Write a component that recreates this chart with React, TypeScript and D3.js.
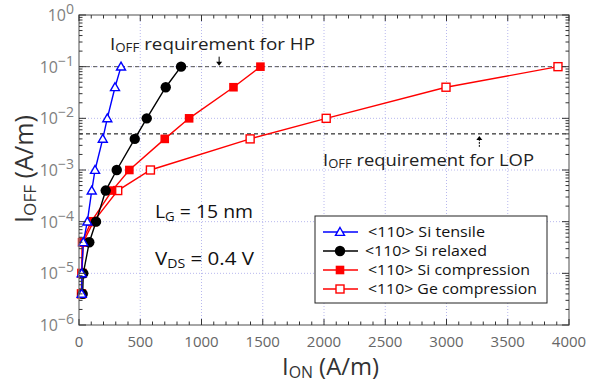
import React from "react";
import * as d3 from "d3";

const ionTensile = [22, 22, 35, 68, 104, 131, 194, 231, 294, 343];
const ioffTensile = [4e-6, 1e-5, 4e-5, 1e-4, 4e-4, 1e-3, 4e-3, 1e-2, 4e-2, 1e-1];
const ionRelaxed = [30, 35, 84, 139, 218, 308, 455, 553, 708, 833];
const ioffRelaxed = [4e-6, 1e-5, 4e-5, 1e-4, 4e-4, 1e-3, 4e-3, 1e-2, 4e-2, 1e-1];
const ionSiComp = [20, 22, 25, 100, 270, 411, 700, 899, 1261, 1481];
const ioffSiComp = [4e-6, 1e-5, 4e-5, 1e-4, 4e-4, 1e-3, 4e-3, 1e-2, 4e-2, 1e-1];
const ionGeComp = [20, 24, 35, 118, 316, 583, 1397, 2018, 2996, 3910];
const ioffGeComp = [4e-6, 1e-5, 4e-5, 1e-4, 4e-4, 1e-3, 4e-3, 1e-2, 4e-2, 1e-1];

const xTicks = [0, 500, 1000, 1500, 2000, 2500, 3000, 3500, 4000];
const yExponents = [0, -1, -2, -3, -4, -5, -6];
const legendLabels = ["<110> Si tensile", "<110> Si relaxed", "<110> Si compression", "<110> Ge compression"];
const legendTextLen = [117, 122, 162, 169];
const legendTextX = [368, 365, 368, 368];

const hpLevel = 0.1;
const lopLevel = 5e-3;
const hpArrowX = 1144;
const lopArrowX = 3268;

const W = 589, H = 383;
const m = { l: 79, r: 20, t: 15, b: 58 };

const x = d3.scaleLinear().domain([0, 4000]).range([m.l, W - m.r]);
const y = d3.scaleLog().domain([1e-6, 1]).range([H - m.b, m.t]);

const FONT = "'Open Sans', 'DejaVu Sans', sans-serif";

type Marker = "tri" | "circle" | "sq" | "opensq";

function MarkerShape({ kind, cx, cy, color }: { kind: Marker; cx: number; cy: number; color: string }) {
  if (kind === "tri") {
    const s = 4.5;
    return (
      <path
        d={`M${cx},${cy - s}L${cx + s},${cy + s * 0.75}L${cx - s},${cy + s * 0.75}Z`}
        fill="white"
        stroke={color}
        strokeWidth={1.4}
      />
    );
  }
  if (kind === "circle") return <circle cx={cx} cy={cy} r={5.2} fill={color} />;
  if (kind === "sq") return <rect x={cx - 4.3} y={cy - 4.3} width={8.6} height={8.6} fill={color} />;
  return <rect x={cx - 4} y={cy - 4} width={8} height={8} fill="white" stroke={color} strokeWidth={1.4} />;
}

const series: { xs: number[]; ys: number[]; color: string; marker: Marker }[] = [
  { xs: ionGeComp, ys: ioffGeComp, color: "#ff0000", marker: "opensq" },
  { xs: ionSiComp, ys: ioffSiComp, color: "#ff0000", marker: "sq" },
  { xs: ionRelaxed, ys: ioffRelaxed, color: "#000000", marker: "circle" },
  { xs: ionTensile, ys: ioffTensile, color: "#0000ff", marker: "tri" },
];

const legendSeries: { color: string; marker: Marker }[] = [
  { color: "#0000ff", marker: "tri" },
  { color: "#000000", marker: "circle" },
  { color: "#ff0000", marker: "sq" },
  { color: "#ff0000", marker: "opensq" },
];

export default function App() {
  const line = d3
    .line<[number, number]>()
    .x((d) => x(d[0]))
    .y((d) => y(d[1]));

  const x0 = m.l, x1 = W - m.r, y0 = H - m.b, y1 = m.t;

  const minorX: number[] = d3.range(0, 4001, 100).filter((v) => v % 500 !== 0);
  const minorY: number[] = [];
  for (let e = -6; e < 0; e++) for (let k = 2; k <= 9; k++) minorY.push(k * Math.pow(10, e));

  return (
    <svg width={W} height={H} style={{ position: "absolute", left: 0, top: 0 }} fontFamily={FONT}>
      <rect width={W} height={H} fill="white" />
      {/* grid */}
      {xTicks.slice(1, -1).map((v) => (
        <line key={"gx" + v} x1={x(v)} x2={x(v)} y1={y0} y2={y1} stroke="#b8b8ee" strokeWidth={1} strokeDasharray="1,2" />
      ))}
      {yExponents.slice(1, -1).map((e) => (
        <line key={"gy" + e} x1={x0} x2={x1} y1={y(Math.pow(10, e))} y2={y(Math.pow(10, e))} stroke="#b8b8ee" strokeWidth={1} strokeDasharray="1,2" />
      ))}
      {/* requirement lines */}
      <line x1={x0} x2={x1} y1={y(hpLevel)} y2={y(hpLevel)} stroke="#555" strokeWidth={1} strokeDasharray="4,3" />
      <line x1={x0} x2={x1} y1={y(lopLevel)} y2={y(lopLevel)} stroke="#000" strokeWidth={1} strokeDasharray="4,3" />
      {/* arrows */}
      <line x1={x(hpArrowX)} x2={x(hpArrowX)} y1={y(hpLevel) - 10} y2={y(hpLevel) - 3} stroke="#000" strokeWidth={1} />
      <path d={`M${x(hpArrowX) - 3},${y(hpLevel) - 5}L${x(hpArrowX) + 3},${y(hpLevel) - 5}L${x(hpArrowX)},${y(hpLevel) - 1}Z`} fill="#000" />
      <line x1={x(lopArrowX)} x2={x(lopArrowX)} y1={y(lopLevel) + 13} y2={y(lopLevel) + 4} stroke="#000" strokeWidth={1} strokeDasharray="2,1" />
      <path d={`M${x(lopArrowX) - 3},${y(lopLevel) + 6}L${x(lopArrowX) + 3},${y(lopLevel) + 6}L${x(lopArrowX)},${y(lopLevel) + 2}Z`} fill="#000" />
      {/* annotation texts */}
      <text x={110} y={50} fontSize={17} fill="#222" textLength={205} lengthAdjust="spacingAndGlyphs">
        <tspan>I</tspan>
        <tspan fontSize={12} dy={2}>OFF</tspan>
        <tspan dy={-2}> requirement for HP</tspan>
      </text>
      <text x={323} y={166} fontSize={17} fill="#222" textLength={211} lengthAdjust="spacingAndGlyphs">
        <tspan>I</tspan>
        <tspan fontSize={12} dy={2}>OFF</tspan>
        <tspan dy={-2}> requirement for LOP</tspan>
      </text>
      <text x={155} y={218} fontSize={19} fill="#111" textLength={98} lengthAdjust="spacingAndGlyphs">
        <tspan>L</tspan>
        <tspan fontSize={13} dy={3}>G</tspan>
        <tspan dy={-3}> = 15 nm</tspan>
      </text>
      <text x={155} y={265} fontSize={19} fill="#111" textLength={99} lengthAdjust="spacingAndGlyphs">
        <tspan>V</tspan>
        <tspan fontSize={13} dy={3}>DS</tspan>
        <tspan dy={-3}> = 0.4 V</tspan>
      </text>
      {/* series */}
      {series.map((s, i) => {
        const pts = s.xs.map((v, j) => [v, s.ys[j]] as [number, number]);
        return (
          <g key={"s" + i}>
            <path d={line(pts) || ""} fill="none" stroke={s.color} strokeWidth={1.4} />
            {pts.map((p, j) => (
              <MarkerShape key={j} kind={s.marker} cx={x(p[0])} cy={y(p[1])} color={s.color} />
            ))}
          </g>
        );
      })}
      {/* frame */}
      <rect x={x0} y={y1} width={x1 - x0} height={y0 - y1} fill="none" stroke="#777" strokeWidth={1.3} />
      {/* x ticks */}
      {xTicks.map((v) => (
        <g key={"xt" + v}>
          <line x1={x(v)} x2={x(v)} y1={y0} y2={y0 - 6} stroke="#333" />
          <line x1={x(v)} x2={x(v)} y1={y1} y2={y1 + 6} stroke="#333" />
          <text x={x(v)} y={y0 + 22} fontSize={15} fill="#666" textAnchor="middle">
            {v}
          </text>
        </g>
      ))}
      {minorX.map((v) => (
        <g key={"xm" + v}>
          <line x1={x(v)} x2={x(v)} y1={y0} y2={y0 - 3.5} stroke="#333" />
          <line x1={x(v)} x2={x(v)} y1={y1} y2={y1 + 3.5} stroke="#333" />
        </g>
      ))}
      {/* y ticks */}
      {yExponents.map((e) => {
        const yy = y(Math.pow(10, e));
        return (
          <g key={"yt" + e}>
            <line x1={x0} x2={x0 + 7} y1={yy} y2={yy} stroke="#333" />
            <line x1={x1} x2={x1 - 7} y1={yy} y2={yy} stroke="#333" />
            <text x={x0 - 5} y={yy + 6} fontSize={16} fill="#808080" textAnchor="end">
              <tspan>10</tspan>
              <tspan fontSize={14} dy={-7}>{e === 0 ? "0" : "\u2212" + Math.abs(e)}</tspan>
            </text>
          </g>
        );
      })}
      {minorY.map((v, i) => (
        <g key={"ym" + i}>
          <line x1={x0} x2={x0 + 3.5} y1={y(v)} y2={y(v)} stroke="#333" />
          <line x1={x1} x2={x1 - 3.5} y1={y(v)} y2={y(v)} stroke="#333" />
        </g>
      ))}
      {/* axis labels */}
      <text x={282} y={375} fontSize={24} fill="#333" textLength={97} lengthAdjust="spacingAndGlyphs">
        <tspan>I</tspan>
        <tspan fontSize={16} dy={3}>ON</tspan>
        <tspan dy={-3}> (A/m)</tspan>
      </text>
      <text transform={`translate(33,${169}) rotate(-90)`} fontSize={25} fill="#333" textAnchor="middle" textLength={108} lengthAdjust="spacingAndGlyphs">
        <tspan>I</tspan>
        <tspan fontSize={17} dy={3}>OFF</tspan>
        <tspan dy={-3}> (A/m)</tspan>
      </text>
      {/* legend */}
      <rect x={315} y={216} width={232} height={87} fill="white" stroke="#222" strokeWidth={1} />
      {legendLabels.map((lab, i) => {
        const ly = 232 + i * 19;
        const ls = legendSeries[i];
        return (
          <g key={"lg" + i}>
            <line x1={323} x2={358} y1={ly} y2={ly} stroke={ls.color} strokeWidth={1.4} />
            <MarkerShape kind={ls.marker} cx={340} cy={ly} color={ls.color} />
            <text x={legendTextX[i]} y={ly + 5} fontSize={14} fill="#111" textLength={legendTextLen[i]} lengthAdjust="spacingAndGlyphs">
              {lab}
            </text>
          </g>
        );
      })}
    </svg>
  );
}
